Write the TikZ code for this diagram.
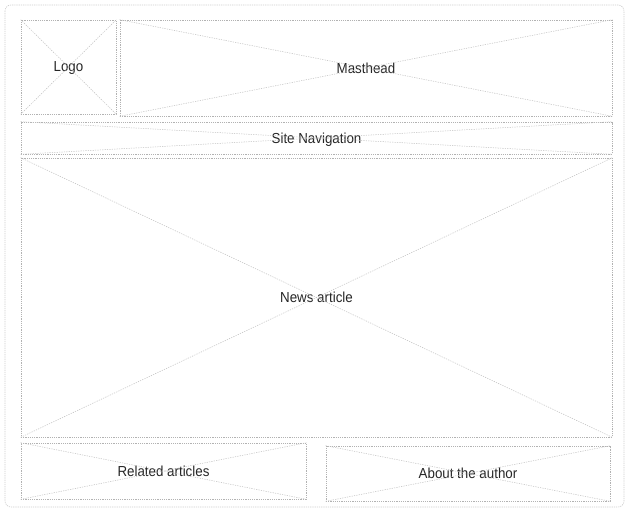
\documentclass[tikz,border=0pt]{standalone}
\usepackage{fontspec}
\setmainfont{Liberation Sans}[FakeStretch=0.92]
\begin{document}
\begin{tikzpicture}[x=1pt,y=-1pt,
  dotline/.style={draw=gray!60, line width=0.6pt, dash pattern=on 1.2pt off 1pt},
  wbox/.style={dotline, inner sep=0pt, font=\fontsize{14.5}{16}\selectfont, text=black!85, anchor=center, text depth=0pt},
  cross/.style={draw=gray!50, line width=0.5pt, dash pattern=on 1.2pt off 1.2pt}]
\useasboundingbox (0,0) rectangle (631,517);
\fill[white] (0,0) rectangle (631,517);
\draw[dotline, draw=gray!40, rounded corners=6pt] (5,5) rectangle (624,507);
\node[wbox, minimum width=95pt, minimum height=94pt] (logo) at (68.5,67) {Logo};
\node[wbox, minimum width=492pt, minimum height=96pt] (mast) at (366,68) {Masthead};
\node[wbox, minimum width=591pt, minimum height=32pt] (nav) at (316.5,138) {Site Navigation};
\node[wbox, minimum width=591pt, minimum height=279pt] (news) at (316.5,297.5) {News article};
\node[wbox, minimum width=285pt, minimum height=56pt] (rel) at (163.5,471) {Related articles};
\node[wbox, minimum width=284pt, minimum height=55pt] (auth) at (468,473.5) {About the author};
\foreach \n in {logo,mast,nav,news,rel,auth}{
  \draw[cross] (\n.north west) -- (\n.south east);
  \draw[cross] (\n.south west) -- (\n.north east);
}
\end{tikzpicture}
\end{document}
